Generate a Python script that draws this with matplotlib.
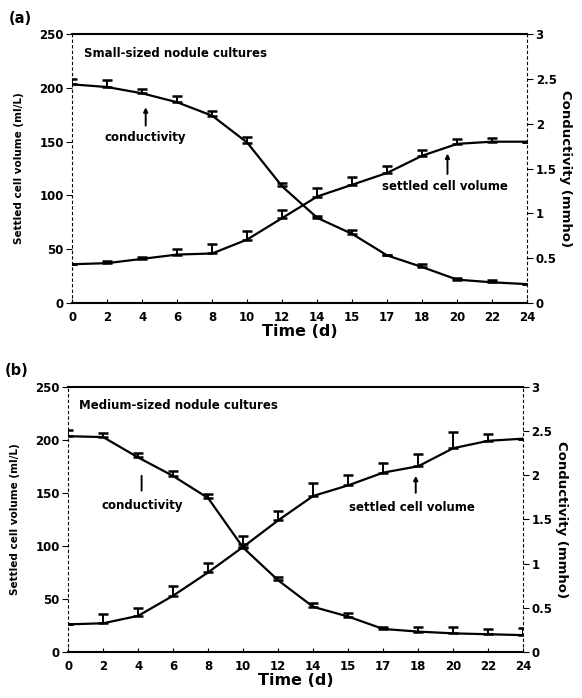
"""Settled cell volume and conductivity of nodule cultures, panels (a) and (b)."""
import matplotlib

matplotlib.use("Agg")

import matplotlib.pyplot as plt
import numpy as np

plt.rcParams["font.family"] = ["DejaVu Sans"]
plt.rcParams["font.weight"] = "bold"
plt.rcParams["axes.labelweight"] = "bold"

time_labels = ["0", "2", "4", "6", "8", "10", "12", "14", "15", "17", "18", "20", "22", "24"]

# panel (a): small-sized nodule cultures
volume_a = [36, 37, 41, 45, 46, 59, 79, 99, 110, 121, 137, 148, 150, 150]
volume_a_err = [0, 2, 2, 5, 9, 8, 7, 8, 7, 6, 5, 4.5, 3, 0]
cond_a = [2.44, 2.41, 2.34, 2.24, 2.09, 1.79, 1.30, 0.95, 0.77, 0.53, 0.40, 0.26, 0.23, 0.21]
cond_a_err = [0.06, 0.08, 0.05, 0.07, 0.05, 0.06, 0.04, 0.02, 0.04, 0.01, 0.03, 0.02, 0.03, 0]

# panel (b): medium-sized nodule cultures
volume_b = [26, 27, 34, 53, 75, 99, 124, 147, 157, 169, 175, 192, 199, 201]
volume_b_err = [0, 9, 7, 9, 9, 10, 9, 12, 10, 9, 12, 15, 6, 0]
cond_b = [2.44, 2.43, 2.20, 1.99, 1.74, 1.18, 0.81, 0.51, 0.40, 0.26, 0.23, 0.21, 0.20, 0.19]
cond_b_err = [0.07, 0.05, 0.05, 0.06, 0.05, 0.04, 0.04, 0.04, 0.04, 0.02, 0.05, 0.07, 0.06, 0.08]

vol_ticks = [0, 50, 100, 150, 200, 250]
cond_ticks = [0, 0.5, 1, 1.5, 2, 2.5, 3]
cond_tick_labels = ["0", "0.5", "1", "1.5", "2", "2.5", "3"]


def draw_panel(fig, rect, letter, title, volume, volume_err, cond, cond_err, notes):
    x = np.arange(len(time_labels))
    ax = fig.add_axes(rect)
    ax2 = ax.twinx()

    ax.errorbar(x, volume, yerr=[np.zeros(len(volume)), volume_err], color="black",
                lw=1.6, elinewidth=1.4, capsize=3.5, capthick=1.8)
    ax2.errorbar(x, cond, yerr=[np.zeros(len(cond)), cond_err], color="black",
                 lw=1.6, elinewidth=1.4, capsize=3.5, capthick=1.8)

    ax.set_xlim(0, len(time_labels) - 1)
    ax.set_ylim(0, 250)
    ax2.set_ylim(0, 3)
    ax.set_xticks(x)
    ax.set_xticklabels(time_labels)
    ax.set_yticks(vol_ticks)
    ax2.set_yticks(cond_ticks)
    ax2.set_yticklabels(cond_tick_labels)

    ax.tick_params(axis="x", direction="in", length=3, width=0.8, pad=6, labelsize=8.5)
    ax.tick_params(axis="y", direction="out", length=4, width=0.8, pad=2, labelsize=8.5)
    ax2.tick_params(axis="y", direction="out", length=4, width=0.8, pad=2, labelsize=8.5)

    for spine in ("top", "bottom"):
        ax.spines[spine].set_linewidth(1.5)
    ax.spines["left"].set_linestyle((0, (2, 3)))
    ax.spines["left"].set_linewidth(0.8)
    ax.spines["right"].set_visible(False)
    for spine in ("top", "bottom", "left"):
        ax2.spines[spine].set_visible(False)
    ax2.spines["right"].set_linestyle((0, (2, 3)))
    ax2.spines["right"].set_linewidth(0.8)

    ax.set_xlabel("Time (d)", fontsize=11.5, labelpad=0)
    ax.set_ylabel("Settled cell volume (ml/L)", fontsize=7.5, labelpad=11)
    ax2.set_ylabel("Conductivity (mmho)", fontsize=9.5, rotation=270, labelpad=11)

    ax.text(0.025, 0.93, title, transform=ax.transAxes, fontsize=8.5, va="center")
    ax.text(-0.14, 1.06, letter, transform=ax.transAxes, fontsize=10.5, va="center")

    for label, tx, ty, ax0, ay0, ay1, head in notes:
        ax.text(tx, ty, label, fontsize=8.5, ha="center", va="center")
        style = "-|>" if head else "-"
        ax.annotate("", xy=(ax0, ay1), xytext=(ax0, ay0),
                    arrowprops=dict(arrowstyle=style, color="black", lw=1.4,
                                    mutation_scale=6, shrinkA=0, shrinkB=0))
    return ax


fig = plt.figure(figsize=(5.82, 6.98), dpi=100)

notes_a = [
    ("conductivity", 2.1, 154, 2.1, 165, 182, True),
    ("settled cell volume", 10.66, 108, 10.72, 120, 139, True),
]
notes_b = [
    ("conductivity", 2.12, 138, 2.1, 152, 166, False),
    ("settled cell volume", 9.82, 136, 9.93, 150, 166, True),
]

draw_panel(fig, [0.124, 0.566, 0.782, 0.385], "(a)", "Small-sized nodule cultures",
           volume_a, volume_a_err, cond_a, cond_a_err, notes_a)
draw_panel(fig, [0.117, 0.066, 0.782, 0.380], "(b)", "Medium-sized nodule cultures",
           volume_b, volume_b_err, cond_b, cond_b_err, notes_b)

fig.savefig("out.png", dpi=100)
